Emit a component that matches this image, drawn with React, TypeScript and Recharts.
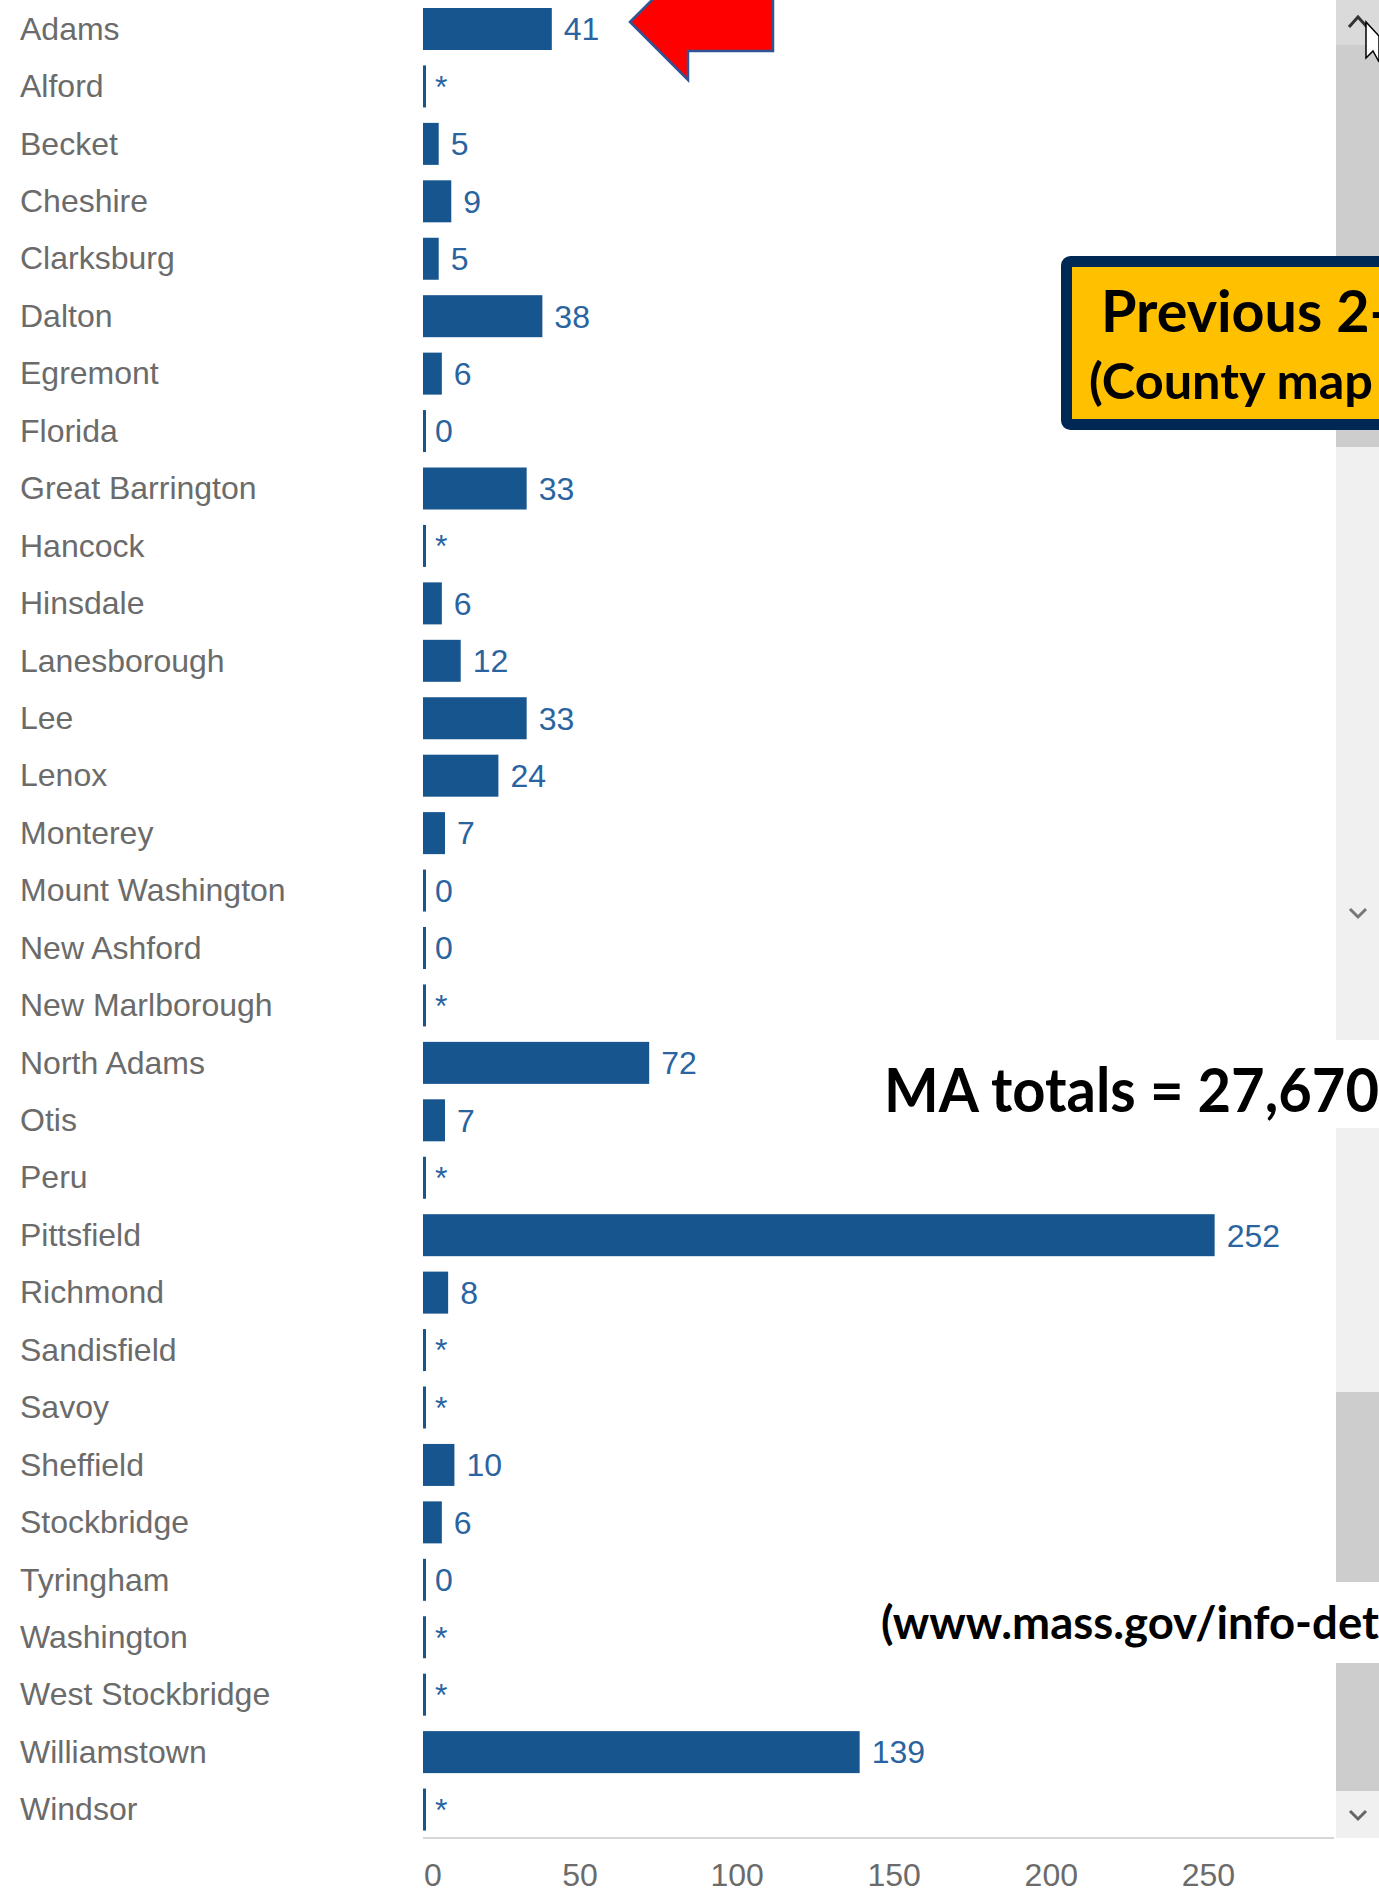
import { Bar, BarChart, LabelList, XAxis, YAxis } from "recharts"

const towns = [
  "Adams", "Alford", "Becket", "Cheshire", "Clarksburg", "Dalton", "Egremont", "Florida",
  "Great Barrington", "Hancock", "Hinsdale", "Lanesborough", "Lee", "Lenox", "Monterey",
  "Mount Washington", "New Ashford", "New Marlborough", "North Adams", "Otis", "Peru",
  "Pittsfield", "Richmond", "Sandisfield", "Savoy", "Sheffield", "Stockbridge", "Tyringham",
  "Washington", "West Stockbridge", "Williamstown", "Windsor",
]

// null = suppressed count, shown as "*"
const counts: (number | null)[] = [
  41, null, 5, 9, 5, 38, 6, 0,
  33, null, 6, 12, 33, 24, 7,
  0, 0, null, 72, 7, null,
  252, 8, null, null, 10, 6, 0,
  null, null, 139, null,
]

const xTicks = [0, 50, 100, 150, 200, 250]

const data = towns.map((town, i) => ({
  town,
  value: counts[i] ?? 0,
  label: counts[i] === null ? "*" : String(counts[i]),
}))

const FONT = "'Liberation Sans', Arial, sans-serif"
const BOLD = "Lato, 'Open Sans', sans-serif"

function TownTick({ y, payload }: any) {
  return (
    <text x={20} y={y} dy={11} fontSize={32} fill="#6b6b6b" fontFamily={FONT}>
      {payload.value}
    </text>
  )
}

function CountTick({ x, y, payload }: any) {
  // the zero label sits just right of the axis start, the rest are centred
  const first = payload.value === 0
  return (
    <text
      x={first ? x + 1 : x}
      y={y + 48}
      textAnchor={first ? "start" : "middle"}
      fontSize={32}
      fill="#6b6b6b"
      fontFamily={FONT}
    >
      {payload.value}
    </text>
  )
}

function BarShape(props: any) {
  const { x, y, width, height } = props
  return <rect x={x} y={y} width={Math.max(width || 0, 3)} height={height} fill="#17558F" />
}

function Overlay() {
  return (
    <svg
      width={1379}
      height={1893}
      style={{ position: "absolute", left: 0, top: 0, pointerEvents: "none" }}
    >
      {/* scrollbar */}
      <rect x={1336} y={0} width={43} height={45} fill="#dadada" />
      <rect x={1336} y={45} width={43} height={402} fill="#cdcdcd" />
      <rect x={1336} y={447} width={43} height={945} fill="#f0f0f0" />
      <rect x={1336} y={1392} width={43} height={399} fill="#cdcdcd" />
      <rect x={1336} y={1791} width={43} height={47} fill="#f0f0f0" />
      <polyline points="1349,27 1358,17 1367,27" fill="none" stroke="#333" strokeWidth={3} />
      <polyline points="1350,909 1358,917 1366,909" fill="none" stroke="#777" strokeWidth={3} />
      <polyline points="1350,1811 1358,1819 1366,1811" fill="none" stroke="#666" strokeWidth={3} />
      <polygon points="1366,22 1366,58 1373,51 1379,62 1379,36" fill="#fff" stroke="#000" strokeWidth={1.5} />

      {/* red arrow */}
      <polygon
        points="630,22 688,-36 688,-7 773,-7 773,51 688,51 688,80"
        fill="#ff0000"
        stroke="#2f5597"
        strokeWidth={2.5}
      />

      {/* yellow box */}
      <rect x={1066.5} y={261.5} width={400} height={163} rx={4} fill="#ffc000" stroke="#002855" strokeWidth={11} />
      <text x={1101} y={332} fontSize={58} fontWeight={700} fill="#000" fontFamily={BOLD}
        textLength={290} lengthAdjust="spacingAndGlyphs">
        Previous 2-
      </text>
      <text x={1089} y={399} fontSize={50} fontWeight={700} fill="#000" fontFamily={BOLD}
        textLength={284} lengthAdjust="spacingAndGlyphs">
        (County map
      </text>

      {/* totals */}
      <rect x={872} y={1040} width={507} height={88} fill="#fff" />
      <text x={884} y={1112} fontSize={61} fontWeight={700} fill="#000" fontFamily={BOLD}
        textLength={495} lengthAdjust="spacingAndGlyphs">
        MA totals = 27,670
      </text>

      <rect x={872} y={1582} width={507} height={81} fill="#fff" />
      <text x={881} y={1639} fontSize={46} fontWeight={700} fill="#000" fontFamily={BOLD}
        textLength={521} lengthAdjust="spacingAndGlyphs">
        (www.mass.gov/info-deta
      </text>
    </svg>
  )
}

export default function App() {
  return (
    <div style={{ position: "absolute", left: 0, top: 0, width: 1379, height: 1893, overflow: "hidden", background: "#fff" }}>
      <BarChart
        width={1379}
        height={1893}
        data={data}
        layout="vertical"
        margin={{ top: 0, right: 45, bottom: 0, left: 0 }}
      >
        <XAxis
          type="number"
          domain={[0, 290]}
          ticks={xTicks}
          interval={0}
          tickLine={false}
          tickSize={0}
          tickMargin={0}
          axisLine={{ stroke: "#d6d6d6", strokeWidth: 2 }}
          tick={<CountTick />}
          height={55}
          allowDataOverflow
        />
        <YAxis
          type="category"
          dataKey="town"
          width={423}
          interval={0}
          axisLine={false}
          tickLine={false}
          tick={<TownTick />}
        />
        <Bar dataKey="value" barSize={42} isAnimationActive={false} shape={BarShape}>
          <LabelList dataKey="label" position="right" offset={12} fill="#2a64a0" fontSize={32} fontFamily={FONT} />
        </Bar>
      </BarChart>
      <Overlay />
    </div>
  )
}
